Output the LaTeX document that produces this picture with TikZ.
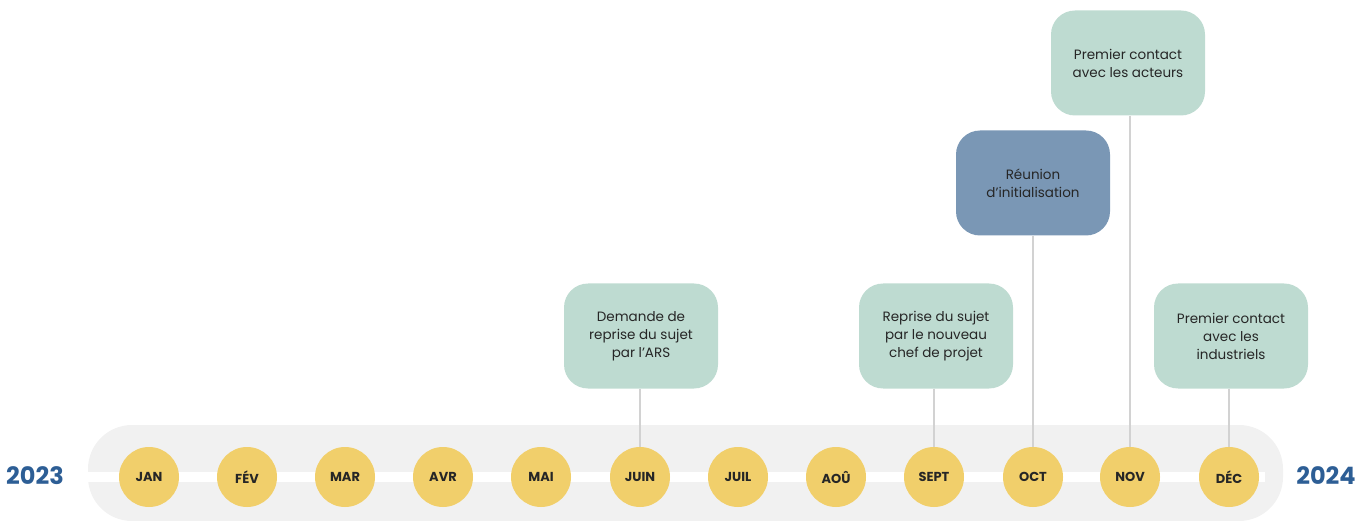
\documentclass[tikz,border=0pt]{standalone}
\usepackage{fontspec}
\setmainfont{Poppins}
\definecolor{band}{HTML}{F1F1F1}
\definecolor{dot}{HTML}{F1CF6B}
\definecolor{mint}{HTML}{BEDBD1}
\definecolor{slate}{HTML}{7A97B5}
\definecolor{yearblue}{HTML}{2D5E95}
\definecolor{stem}{HTML}{D2D2D2}
\tikzset{
  month/.style={circle, fill=dot, minimum size=60pt, inner sep=0pt, font=\fontsize{13}{14}\selectfont\bfseries, text=black!85},
  event/.style={rounded corners=24pt, fill=mint, minimum width=154pt, minimum height=105pt, align=center, inner sep=2pt, font=\fontsize{13.5}{18}\selectfont, text=black!85},
  eventb/.style={event, fill=slate},
  year/.style={font=\fontsize{24}{26}\selectfont\bfseries, text=yearblue},
  stemline/.style={draw=stem, line width=1.6pt}
}
\begin{document}
\begin{tikzpicture}[x=1pt,y=-1pt]
\useasboundingbox (0,0) rectangle (1368,521);
\fill[band, rounded corners=44pt] (88,425) rectangle (1283,521);
\fill[white] (88,472) rectangle (1265,482);
% months
\node[month] (jan)  at (149,477) {JAN};
\node[month] (fev)  at (247,477) {FÉV};
\node[month] (mar)  at (345,477) {MAR};
\node[month] (avr)  at (443,477) {AVR};
\node[month] (mai)  at (541,477) {MAI};
\node[month] (juin) at (640,477) {JUIN};
\node[month] (juil) at (738,477) {JUIL};
\node[month] (aou)  at (836,477) {AOÛ};
\node[month] (sept) at (934,477) {SEPT};
\node[month] (oct)  at (1033,477) {OCT};
\node[month] (nov)  at (1130,477) {NOV};
\node[month] (dec)  at (1229,477) {DÉC};
% years
\node[year] (y1) at (35,476) {2023};
\node[year] (y2) at (1326,476) {2024};
% events
\node[event]  (e1) at (641,336)  {Demande de\\reprise du sujet\\par l'ARS};
\node[event]  (e2) at (936,336)  {Reprise du sujet\\par le nouveau\\chef de projet};
\node[eventb] (e3) at (1033,183) {Réunion\\d'initialisation};
\node[event]  (e4) at (1128,63)  {Premier contact\\avec les acteurs};
\node[event]  (e5) at (1231,336) {Premier contact\\avec les\\industriels};
% stems
\draw[stemline] (e1.south -| juin.north) -- (juin.north);
\draw[stemline] (e2.south -| sept.north) -- (sept.north);
\draw[stemline] (e3.south -| oct.north) -- (oct.north);
\draw[stemline] (e4.south -| nov.north) -- (nov.north);
\draw[stemline] (e5.south -| dec.north) -- (dec.north);
\end{tikzpicture}
\end{document}
